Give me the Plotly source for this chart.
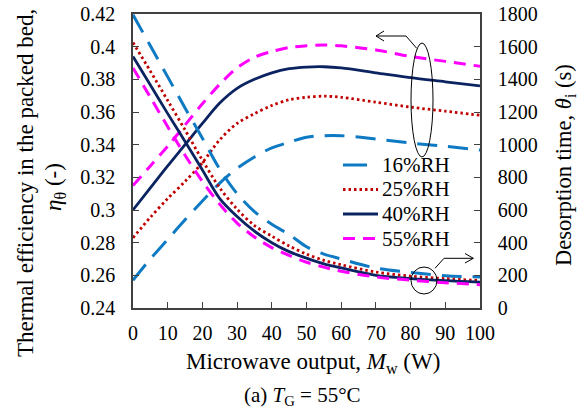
import plotly.graph_objects as go

# ---------------- data ----------------
power = [0, 5, 10, 15, 20, 25, 30, 35, 40, 45, 50, 55, 60, 70, 80, 90, 100]

series_names = ["16%RH", "25%RH", "40%RH", "55%RH"]

# thermal efficiency (left axis)
eff_16 = [0.257, 0.270, 0.282, 0.294, 0.3055, 0.3165, 0.3255, 0.3325, 0.338, 0.3415, 0.3445, 0.3455, 0.3455, 0.3435, 0.341, 0.339, 0.3367]
eff_25 = [0.283, 0.2955, 0.307, 0.3175, 0.329, 0.343, 0.353, 0.359, 0.364, 0.3675, 0.369, 0.3697, 0.369, 0.366, 0.363, 0.3605, 0.358]
eff_40 = [0.300, 0.3135, 0.327, 0.340, 0.353, 0.3655, 0.3745, 0.380, 0.384, 0.3865, 0.3875, 0.3877, 0.387, 0.384, 0.381, 0.3785, 0.376]
eff_55 = [0.315, 0.327, 0.339, 0.352, 0.365, 0.377, 0.387, 0.3935, 0.397, 0.3995, 0.4005, 0.401, 0.4005, 0.398, 0.394, 0.391, 0.388]

# desorption time (right axis)
des_16 = [1795, 1605, 1415, 1225, 1040, 850, 700, 590, 512, 450, 375, 330, 300, 245, 218, 198, 190]
des_25 = [1625, 1450, 1270, 1090, 905, 735, 605, 505, 440, 380, 330, 292, 265, 220, 195, 180, 168]
des_40 = [1540, 1365, 1190, 1020, 845, 670, 560, 470, 400, 345, 305, 270, 245, 200, 180, 167, 158]
des_55 = [1470, 1290, 1110, 935, 775, 635, 520, 435, 370, 322, 280, 250, 225, 190, 170, 155, 143]

x_ticks = [0, 10, 20, 30, 40, 50, 60, 70, 80, 90, 100]
y_ticks = [0.24, 0.26, 0.28, 0.30, 0.32, 0.34, 0.36, 0.38, 0.40, 0.42]
y_ticklabels = ["0.24", "0.26", "0.28", "0.3", "0.32", "0.34", "0.36", "0.38", "0.4", "0.42"]
y2_ticks = [0, 200, 400, 600, 800, 1000, 1200, 1400, 1600, 1800]

# ---------------- styles ----------------
colors = ["#0E7AC4", "#C00000", "#0B2461", "#FF00FF"]
dashes = ["20px,11px", "2.5px,3px", "solid", "12px,8px"]
widths = [3, 2.8, 2.8, 3]
legend_sample_end = [367, 378, 378, 378]
FONT = "Liberation Serif"

fig = go.Figure()
effs = [eff_16, eff_25, eff_40, eff_55]
dess = [des_16, des_25, des_40, des_55]
for i, name in enumerate(series_names):
    fig.add_trace(go.Scatter(
        x=power, y=effs[i], name=name, mode="lines",
        line=dict(color=colors[i], dash=dashes[i], width=widths[i], shape="spline", smoothing=0.9),
        showlegend=False, yaxis="y"))
for i, name in enumerate(series_names):
    fig.add_trace(go.Scatter(
        x=power, y=dess[i], name=name, mode="lines",
        line=dict(color=colors[i], dash=dashes[i], width=widths[i], shape="spline", smoothing=0.9),
        showlegend=False, yaxis="y2"))

PW, PH = 587, 409
L, R, T, B = 133, 480, 14, 308   # plot area in pixels


def px(xp):
    return (xp - L) / (R - L)


def py(yp):
    return (B - yp) / (B - T)


axis_color = "#404040"
tickfont = dict(family=FONT, size=20, color="black")
common_axis = dict(ticks="inside", ticklen=6, tickwidth=1.3, tickcolor=axis_color,
                   showline=True, linecolor=axis_color, linewidth=1.5, showgrid=False,
                   zeroline=False, tickfont=tickfont, automargin=False,
                   ticklabeloverflow="allow")

fig.update_layout(
    width=PW, height=PH,
    margin=dict(l=L, r=PW - R, t=T, b=PH - B, pad=0),
    paper_bgcolor="white", plot_bgcolor="white",
    font=dict(family=FONT, size=20, color="black"),
    showlegend=False,
    xaxis=dict(range=[0, 100], tickvals=x_ticks, mirror=True, ticklabelstandoff=6, **common_axis),
    yaxis=dict(range=[0.24, 0.42], tickvals=y_ticks, ticktext=y_ticklabels,
               ticklabelstandoff=12, **common_axis),
    yaxis2=dict(range=[0, 1800], tickvals=y2_ticks, overlaying="y", side="right",
                ticklabelstandoff=12, **common_axis),
)

annos = [
    dict(text="Thermal efficiency in the packed bed,", x=px(25), y=py(183), textangle=-90, size=23),
    dict(text="<i>η</i><sub>θ</sub> (-)", x=px(55), y=py(187), textangle=-90, size=23),
    dict(text="Desorption time, <i>θ</i><sub>i</sub> (s)", x=px(565), y=py(165), textangle=-90, size=22.5),
    dict(text="Microwave output, <i>M</i><sub>w</sub> (W)", x=px(313), y=py(363), textangle=0, size=23),
    dict(text="(a) <i>T</i><sub>G</sub> = 55°C", x=px(302), y=py(396), textangle=0, size=21),
]
for a in annos:
    fig.add_annotation(xref="paper", yref="paper", showarrow=False, xanchor="center",
                       yanchor="middle", text=a["text"], x=a["x"], y=a["y"],
                       textangle=a["textangle"],
                       font=dict(family=FONT, size=a["size"], color="black"))

# legend (drawn manually to match the compact row spacing)
legend_rows = [165, 189.5, 214, 238.5]
for i, name in enumerate(series_names):
    fig.add_shape(type="line", xref="paper", yref="paper", x0=px(343), x1=px(legend_sample_end[i]),
                  y0=py(legend_rows[i]), y1=py(legend_rows[i]),
                  line=dict(color=colors[i], dash=("24px,10px" if i == 0 else dashes[i]),
                            width=widths[i]))
    fig.add_annotation(xref="paper", yref="paper", showarrow=False, xanchor="left",
                       yanchor="middle", x=px(380), y=py(legend_rows[i]), text=name,
                       font=dict(family=FONT, size=21, color="black"))

line_style = dict(color="black", width=1)
# upper ellipse and arrow (pointing to left axis)
fig.add_shape(type="circle", xref="paper", yref="paper", x0=px(411), x1=px(433),
              y0=py(157), y1=py(43), line=line_style)
fig.add_shape(type="path", xref="paper", yref="paper",
              path=f"M{px(416.7)},{py(48.3)} L{px(406)},{py(36)} L{px(376)},{py(36)} "
                   f"M{px(384)},{py(31)} L{px(376)},{py(36)} L{px(384)},{py(41)}",
              line=line_style)
# lower ellipse and arrow (pointing to right axis)
fig.add_shape(type="circle", xref="paper", yref="paper", x0=px(411), x1=px(437),
              y0=py(294), y1=py(267), line=line_style)
fig.add_shape(type="path", xref="paper", yref="paper",
              path=f"M{px(435)},{py(268.3)} L{px(444)},{py(258.3)} L{px(473.3)},{py(258.3)} "
                   f"M{px(465)},{py(253.5)} L{px(473.3)},{py(258.3)} L{px(465)},{py(263)}",
              line=line_style)

fig.write_html("out.html", config={"displayModeBar": False},
               post_script="document.body.style.margin='0';")
